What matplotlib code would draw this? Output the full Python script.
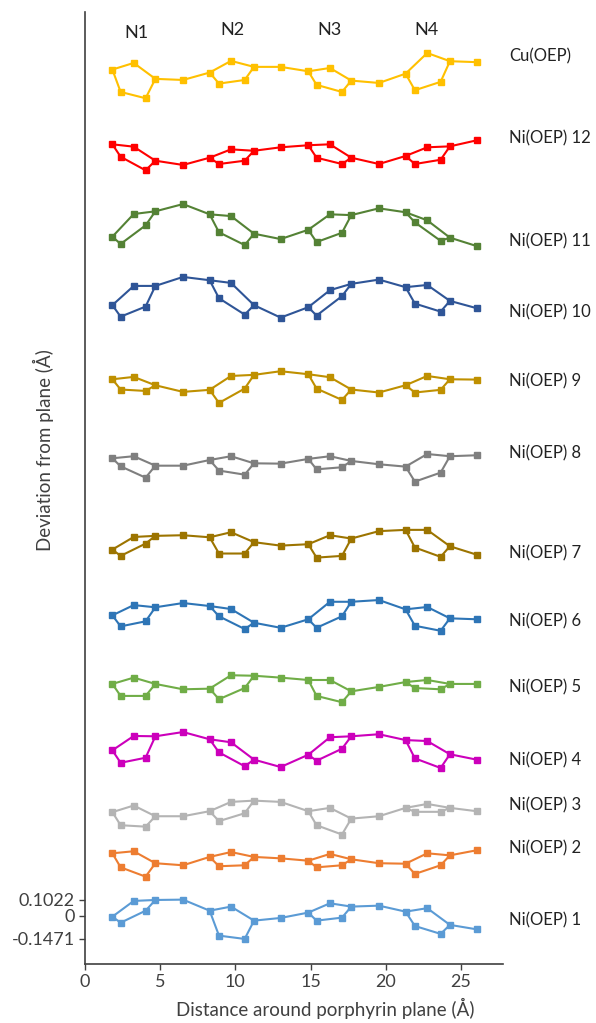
import matplotlib

matplotlib.use('Agg')
import matplotlib.pyplot as plt
import numpy as np

plt.rcParams['font.family'] = ['Lato', 'DejaVu Sans']

# ── Data ──────────────────────────────────────────────────────────────────────
# distance around the porphyrin core (Å); per ring: Ca, Cb, N, Cb, Ca, then meso C
DIST = [1.82, 2.37, 3.24, 4.03, 4.68, 6.52,
        8.29, 8.91, 9.71, 10.62, 11.24, 13.01,
        14.85, 15.40, 16.29, 17.09, 17.71, 19.55,
        21.32, 21.94, 22.76, 23.65, 24.27, 26.04]

NAMES = ['Ni(OEP) 1', 'Ni(OEP) 2', 'Ni(OEP) 3', 'Ni(OEP) 4', 'Ni(OEP) 5',
         'Ni(OEP) 6', 'Ni(OEP) 7', 'Ni(OEP) 8', 'Ni(OEP) 9', 'Ni(OEP) 10',
         'Ni(OEP) 11', 'Ni(OEP) 12', 'Cu(OEP)']

# vertical stacking offset of each structure (Å)
OFFSETS = [0.0, 0.341, 0.646, 1.051, 1.457, 1.907, 2.358,
           2.865, 3.360, 3.918, 4.361, 4.824, 5.332]

# deviation from mean plane (Å)
ni1 = [-0.006, -0.044, 0.094, 0.032, 0.100, 0.1022,
       0.032, -0.126, 0.058, -0.1471, -0.031, -0.014,
       0.020, -0.031, 0.079, -0.012, 0.058, 0.064,
       0.026, -0.065, 0.048, -0.115, -0.058, -0.086]
ni2 = [0.055, -0.034, 0.068, -0.093, -0.008, -0.021,
       0.032, -0.027, 0.063, -0.021, 0.032, 0.023,
       0.008, -0.034, 0.051, -0.021, 0.017, -0.008,
       -0.011, -0.076, 0.055, -0.021, 0.042, 0.074]
ni3 = [0.011, -0.072, 0.053, -0.081, -0.015, -0.015,
       0.017, -0.046, 0.076, 0.004, 0.084, 0.076,
       0.017, -0.072, 0.038, -0.131, -0.030, -0.015,
       0.038, 0.013, 0.063, 0.013, 0.038, 0.017]
ni4 = [-0.002, -0.081, 0.089, -0.049, 0.087, 0.114,
       0.068, -0.015, 0.049, -0.103, -0.061, -0.108,
       -0.030, -0.068, 0.081, 0.008, 0.087, 0.100,
       0.063, -0.053, 0.057, -0.114, -0.027, -0.061]
ni5 = [0.013, -0.063, 0.053, -0.063, 0.013, -0.021,
       -0.017, -0.084, 0.068, -0.013, 0.065, 0.053,
       0.038, -0.063, 0.038, -0.103, -0.034, -0.006,
       0.025, -0.013, 0.038, -0.021, 0.013, 0.013]
ni6 = [-0.002, -0.072, 0.063, -0.040, 0.049, 0.076,
       0.057, -0.008, 0.038, -0.089, -0.049, -0.081,
       -0.027, -0.081, 0.084, -0.008, 0.084, 0.095,
       0.036, -0.068, 0.051, -0.100, -0.021, -0.027]
ni7 = [-0.036, -0.076, 0.044, 0.002, 0.051, 0.055,
       0.042, -0.061, 0.074, -0.061, 0.011, -0.011,
       -0.002, -0.087, 0.055, -0.076, 0.034, 0.081,
       0.089, -0.023, 0.089, -0.082, -0.015, -0.068]
ni8 = [0.036, -0.015, 0.049, -0.087, -0.011, -0.011,
       0.025, -0.042, 0.049, -0.068, 0.004, 0.002,
       0.032, -0.034, 0.049, -0.021, 0.019, -0.002,
       -0.017, -0.112, 0.063, -0.055, 0.049, 0.055]
ni9 = [0.042, -0.023, 0.057, -0.032, 0.004, -0.038,
       -0.025, -0.108, 0.063, -0.017, 0.070, 0.093,
       0.074, -0.017, 0.055, -0.089, -0.023, -0.042,
       0.004, -0.042, 0.063, -0.025, 0.042, 0.040]
ni10 = [-0.046, -0.119, 0.076, -0.055, 0.076, 0.133,
        0.112, -0.002, 0.095, -0.106, -0.046, -0.125,
        -0.059, -0.112, 0.049, 0.011, 0.089, 0.116,
        0.068, -0.036, 0.082, -0.087, -0.019, -0.065]
ni11 = [-0.055, -0.101, 0.089, 0.017, 0.106, 0.152,
        0.087, -0.027, 0.076, -0.108, -0.036, -0.070,
        -0.011, -0.089, 0.087, -0.030, 0.082, 0.125,
        0.100, 0.036, 0.049, -0.081, -0.061, -0.114]
ni12 = [0.068, -0.011, 0.053, -0.097, -0.036, -0.063,
        -0.017, -0.057, 0.036, -0.036, 0.027, 0.049,
        0.062, -0.017, 0.068, -0.057, -0.017, -0.057,
        -0.006, -0.057, 0.049, -0.030, 0.055, 0.093]
cu = [0.034, -0.108, 0.076, -0.148, -0.025, -0.032,
      0.015, -0.055, 0.089, -0.032, 0.051, 0.051,
      0.023, -0.063, 0.044, -0.108, -0.036, -0.051,
      0.008, -0.097, 0.139, -0.044, 0.087, 0.081]

SERIES = [ni1, ni2, ni3, ni4, ni5, ni6, ni7, ni8, ni9, ni10, ni11, ni12, cu]

COLORS = ['#5B9BD5', '#ED7D31', '#B4B4B4', '#CC00BB', '#70AD47', '#2E75B6',
          '#9C7400', '#7F7F7F', '#BF9000', '#2F5597', '#548235', '#FF0000',
          '#FFC000']

# label heights on the axis (Å) – hand placed like the original
LABEL_Y = [-0.027, 0.430, 0.703, 0.988, 1.451, 1.869, 2.301,
           2.935, 3.391, 3.829, 4.279, 4.932, 5.449]

# ── Path through the atoms: outer ring chain, then Ca-N-Ca branches ─────────
chain = []
for r in range(4):
    chain += [6 * r, 6 * r + 1, 6 * r + 3, 6 * r + 4, 6 * r + 5]
branches = []
for r in range(4):
    branches += [None, 6 * r, 6 * r + 2, 6 * r + 4]
PATH = chain + branches

# ── Canvas ──────────────────────────────────────────────────────────────────
fig = plt.figure(figsize=(5.96, 10.23), dpi=100)
ax = fig.add_axes([85 / 596, 59 / 1023, 418 / 596, 952 / 1023])

dist = np.array(DIST)
for dev, off, col in zip(SERIES, OFFSETS, COLORS):
    y = np.array(dev) + off
    xs = [np.nan if i is None else dist[i] for i in PATH]
    ys = [np.nan if i is None else y[i] for i in PATH]
    ax.plot(xs, ys, '-', color=col, lw=1.5, zorder=2)
    ax.plot(dist, y, 's', color=col, ms=5, zorder=3)

for name, ly in zip(NAMES, LABEL_Y):
    ax.text(28.2, ly, name, fontsize=12, color='#222222',
            ha='left', va='center', clip_on=False)

for k, xn in enumerate([3.44, 9.81, 16.29, 22.74]):
    ax.text(xn, 5.60 if k == 0 else 5.62, f'N{k + 1}', fontsize=13,
            color='#222222', ha='center', va='center')

ax.set_xlim(0, 27.8)
ax.set_ylim(-0.306, 5.731)
ax.set_xticks([0, 5, 10, 15, 20, 25])
ax.set_yticks([0.1022, 0, -0.1471])
ax.set_yticklabels(['0.1022', '0', '-0.1471'])
ax.tick_params(labelsize=13, colors='#404040', length=4, width=1)

for s in ['top', 'right']:
    ax.spines[s].set_visible(False)
for s in ['left', 'bottom']:
    ax.spines[s].set_color('#404040')
    ax.spines[s].set_linewidth(1.2)

ax.set_xlabel('Distance around porphyrin plane (Å)', fontsize=13.5,
              color='#404040')
ax.xaxis.set_label_coords(0.574, -0.036)
ax.set_ylabel('Deviation from plane (Å)', fontsize=13.5, color='#404040')
ax.yaxis.set_label_coords(-0.075, 0.54)

fig.savefig('out.png', dpi=100, facecolor='white')
